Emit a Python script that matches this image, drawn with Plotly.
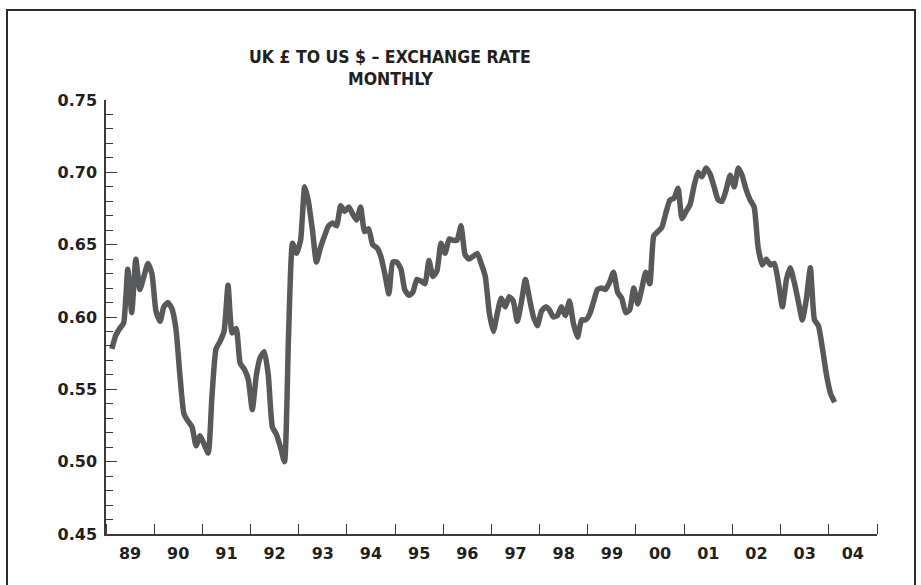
import pandas as pd
import plotly.graph_objects as go

# Monthly observations, Feb 1989 to Feb 2004 (pounds per US dollar)
start_month = "1989-02-01"
rate = [
    0.578, 0.587, 0.592, 0.596, 0.633, 0.603, 0.640, 0.619, 0.628, 0.637, 0.630, 0.604,
    0.597, 0.607, 0.610, 0.606, 0.592, 0.560, 0.533, 0.528, 0.524, 0.511, 0.518, 0.512,
    0.506, 0.545, 0.578, 0.583, 0.590, 0.622, 0.589, 0.592, 0.568, 0.564, 0.557, 0.536,
    0.560, 0.572, 0.576, 0.560, 0.524, 0.519, 0.510, 0.500, 0.585, 0.651, 0.644, 0.653,
    0.690, 0.680, 0.660, 0.638, 0.648, 0.656, 0.663, 0.665, 0.663, 0.677, 0.673, 0.676,
    0.671, 0.667, 0.676, 0.659, 0.661, 0.650, 0.648, 0.642, 0.630, 0.616, 0.638, 0.638,
    0.633, 0.619, 0.615, 0.617, 0.626, 0.625, 0.623, 0.639, 0.628, 0.632, 0.651, 0.644,
    0.654, 0.653, 0.653, 0.663, 0.643, 0.640, 0.642, 0.644, 0.637, 0.628, 0.603, 0.590,
    0.603, 0.613, 0.607, 0.614, 0.611, 0.597, 0.610, 0.626, 0.613, 0.600, 0.594, 0.604,
    0.607, 0.605, 0.600, 0.601, 0.607, 0.601, 0.611, 0.595, 0.586, 0.598, 0.598, 0.602,
    0.611, 0.619, 0.620, 0.619, 0.624, 0.631, 0.617, 0.613, 0.603, 0.605, 0.620, 0.609,
    0.620, 0.631, 0.623, 0.656, 0.659, 0.662, 0.672, 0.681, 0.682, 0.689, 0.668, 0.673,
    0.678, 0.690, 0.700, 0.697, 0.703, 0.699, 0.690, 0.681, 0.680, 0.688, 0.698, 0.690,
    0.703, 0.698, 0.688, 0.681, 0.676, 0.648, 0.636, 0.640, 0.636, 0.637, 0.624, 0.607,
    0.626, 0.634, 0.624, 0.611, 0.598, 0.612, 0.634, 0.598, 0.594, 0.578, 0.560, 0.547,
    0.541,
]
months = pd.date_range(start=start_month, periods=len(rate), freq="MS") + pd.Timedelta(days=14)

title_lines = ["UK £ TO US $ – EXCHANGE RATE", "MONTHLY"]
y_ticks = [0.45, 0.50, 0.55, 0.60, 0.65, 0.70, 0.75]

INK = "#231f20"
AXIS = "#3a3a3a"
LINE = "#58595b"
TICK_FONT = dict(family="DejaVu Sans", size=16, color=INK, weight="bold")

fig = go.Figure()
fig.add_trace(go.Scatter(
    x=months, y=rate, mode="lines",
    line=dict(color=LINE, width=5.5, shape="spline", smoothing=0.5),
    hoverinfo="x+y",
))

W, H = 921, 585
L, R, T, B = 106, 44, 100, 51
pw, ph = W - L - R, H - T - B

def px_x(x):
    return (x - L) / pw

def px_y(y):
    return (H - B - y) / ph

fig.update_layout(
    width=W, height=H,
    margin=dict(l=L, r=R, t=T, b=B),
    paper_bgcolor="white", plot_bgcolor="white",
    showlegend=False,
    xaxis=dict(
        type="date",
        range=["1989-01-01", "2005-01-01"],
        tick0="1989-01-01", dtick="M12",
        tickformat="%y", ticklabelmode="period",
        ticks="inside", ticklen=10, tickwidth=1.3, tickcolor=AXIS,
        showline=True, linecolor=AXIS, linewidth=1.5,
        showgrid=False, zeroline=False,
        tickfont=TICK_FONT, ticklabelstandoff=4,
    ),
    yaxis=dict(
        range=[0.45, 0.75],
        tickvals=y_ticks, tickformat=".2f",
        ticks="inside", ticklen=11, tickwidth=1.3, tickcolor=AXIS,
        minor=dict(dtick=0.01, tick0=0.45, ticks="inside", ticklen=7,
                   tickwidth=1.3, tickcolor=AXIS, showgrid=False),
        showline=True, linecolor=AXIS, linewidth=1.5,
        showgrid=False, zeroline=False,
        tickfont=TICK_FONT, ticklabelstandoff=4,
    ),
    shapes=[dict(
        type="rect", xref="paper", yref="paper",
        x0=px_x(7), x1=px_x(915), y0=px_y(595), y1=px_y(10),
        line=dict(color="#2b2b2b", width=2), fillcolor="rgba(0,0,0,0)",
        layer="below",
    )],
)

title_font = dict(family="DejaVu Sans Condensed, DejaVu Sans", size=17.5, color=INK, weight="bold")
for text, ypix in zip(title_lines, [57, 79]):
    fig.add_annotation(
        text=text, xref="paper", yref="paper",
        x=px_x(390), y=px_y(ypix), xanchor="center", yanchor="middle",
        showarrow=False, font=title_font,
    )

fig.write_html("out.html")
